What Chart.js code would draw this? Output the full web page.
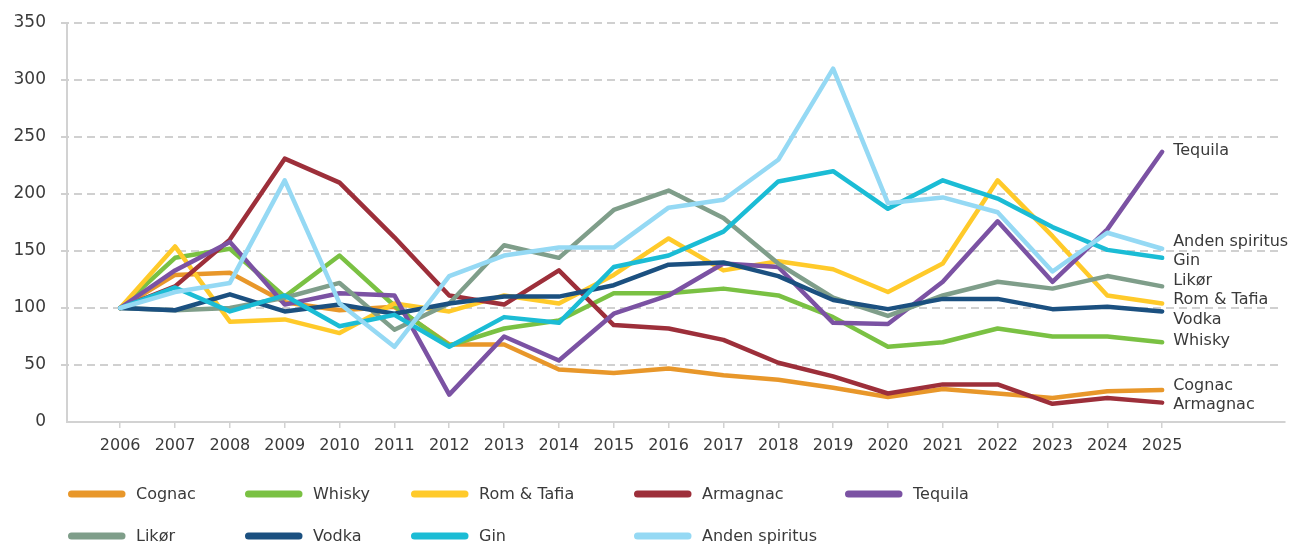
<!DOCTYPE html>
<html>
<head>
<meta charset="utf-8">
<script src="https://cdn.jsdelivr.net/npm/chart.js@4/dist/chart.umd.min.js"></script>
<style>
  html, body { margin: 0; padding: 0; background: #fff; }
  #wrap { position: relative; width: 1301px; height: 548px; }
</style>
</head>
<body>
<div id="wrap"><canvas id="c" width="1301" height="548"></canvas></div>
<script>
const years = [2006,2007,2008,2009,2010,2011,2012,2013,2014,2015,2016,2017,2018,2019,2020,2021,2022,2023,2024,2025];
const yTicks = [0,50,100,150,200,250,300,350];

const cognac   = [100,129,131,105,98,101,68,68,46,43,47,41,37,30,22,29,25,21,27,28];
const whisky   = [100,144,152,110,146,102,67,82,89,113,113,117,111,92,66,70,82,75,75,70];
const rom      = [100,154,88,90,78,104,97,111,104,129,161,133,141,134,114,139,212,163,111,104];
const armagnac = [100,119,160,231,210,162,111,103,133,85,82,72,52,40,25,33,33,16,21,17];
const tequila  = [100,133,158,103,113,111,24,75,54,95,111,139,136,87,86,123,176,123,169,237];
const likor    = [100,98,100,109,122,81,104,155,144,186,203,179,139,109,93,111,123,117,128,119];
const vodka    = [100,98,112,97,103,95,104,110,110,120,138,140,128,107,99,108,108,99,101,97];
const gin      = [100,118,97,111,84,94,66,92,87,136,146,167,211,220,187,212,196,171,151,144];
const anden    = [100,114,122,212,104,66,128,146,153,153,188,195,230,310,192,197,184,132,166,152];

const seriesNames  = ['Cognac','Whisky','Rom & Tafia','Armagnac','Tequila','Likør','Vodka','Gin','Anden spiritus'];
const seriesValues = [cognac, whisky, rom, armagnac, tequila, likor, vodka, gin, anden];
const seriesColors = ['#E8972A','#7AC143','#FFCA2A','#9D2F3A','#7B52A3','#7F9E8A','#1B5080','#1BBCD5','#95D9F4'];

const FONT = '"DejaVu Sans", Lato, sans-serif';
const TEXT = '#3a3a3a';

const datasets = seriesNames.map((name, i) => ({
  label: name,
  data: years.map((y, k) => ({x: y, y: seriesValues[i][k]})),
  borderColor: seriesColors[i],
  backgroundColor: seriesColors[i],
  borderWidth: 4.5,
  pointRadius: 0,
  tension: 0,
  borderCapStyle: 'round',
  borderJoinStyle: 'round',
  order: seriesNames.length - i
}));

const gridPlugin = {
  id: 'dashedGrid',
  beforeDatasetsDraw(chart) {
    const ctx = chart.ctx;
    const ys = chart.scales.y;
    const a = chart.chartArea;
    ctx.save();
    ctx.strokeStyle = '#d0d0d0';
    ctx.lineWidth = 2;
    ctx.setLineDash([8, 5]);
    yTicks.forEach(v => {
      if (v === 0) return;
      const y = Math.round(ys.getPixelForValue(v));
      ctx.beginPath();
      ctx.moveTo(a.left - 6, y);
      ctx.lineTo(a.right - 5, y);
      ctx.stroke();
    });
    ctx.restore();
  }
};

const overlay = {
  id: 'overlay',
  afterDraw(chart) {
    const ctx = chart.ctx;
    const xs = chart.scales.x, ys = chart.scales.y;
    const lastX = xs.getPixelForValue(years[years.length - 1]);
    let items = seriesNames.map((n, i) => ({name: n, t: ys.getPixelForValue(seriesValues[i][seriesValues[i].length - 1]) - 1}));
    items.sort((a, b) => a.t - b.t);
    const gap = 19.5;
    let clusters = items.map(it => ({items: [it], mean: it.t}));
    const place = c => { const n = c.items.length; const start = c.mean - (n - 1) * gap / 2; c.items.forEach((it, k) => it.y = start + k * gap); };
    clusters.forEach(place);
    let changed = true;
    while (changed) {
      changed = false;
      for (let i = 1; i < clusters.length; i++) {
        const a = clusters[i - 1], b = clusters[i];
        const aLast = a.items[a.items.length - 1].y, bFirst = b.items[0].y;
        if (bFirst - aLast < gap) {
          const merged = {items: a.items.concat(b.items)};
          merged.mean = merged.items.reduce((s, it) => s + it.t, 0) / merged.items.length;
          place(merged);
          clusters.splice(i - 1, 2, merged);
          changed = true;
          break;
        }
      }
    }
    ctx.save();
    ctx.font = '16px ' + FONT;
    ctx.fillStyle = TEXT;
    ctx.textAlign = 'left';
    ctx.textBaseline = 'middle';
    items.forEach(it => ctx.fillText(it.name, lastX + 11, it.y));
    const cols = [68, 245, 411, 634, 845];
    const rows = [494, 536];
    seriesNames.forEach((n, i) => {
      const r = Math.floor(i / 5), c = i % 5;
      const x = cols[c], y = rows[r];
      ctx.strokeStyle = seriesColors[i];
      ctx.lineWidth = 7;
      ctx.lineCap = 'round';
      ctx.beginPath();
      ctx.moveTo(x + 3.5, y);
      ctx.lineTo(x + 54, y);
      ctx.stroke();
      ctx.fillStyle = TEXT;
      ctx.fillText(n, x + 68, y + 1);
    });
    ctx.restore();
  }
};

new Chart(document.getElementById('c'), {
  type: 'line',
  data: { datasets },
  options: {
    responsive: false,
    animation: false,
    devicePixelRatio: 1,
    layout: { padding: { top: 23, right: 16, left: 0, bottom: 0 } },
    plugins: { legend: { display: false }, tooltip: { enabled: false } },
    scales: {
      x: {
        type: 'linear',
        min: 2005.03,
        max: 2027.24,
        afterBuildTicks: (s) => { s.ticks = years.map(v => ({value: v})); },
        afterFit: (s) => { s.height = 126; },
        ticks: {
          autoSkip: false,
          maxRotation: 0,
          padding: 8,
          color: TEXT,
          font: { family: FONT, size: 16 },
          callback: (v) => String(v)
        },
        grid: { drawOnChartArea: false, drawTicks: true, tickLength: 6, color: '#d2d2d2', lineWidth: 1.5 },
        border: { display: true, color: '#d2d2d2', width: 2 }
      },
      y: {
        min: 0,
        max: 350,
        afterBuildTicks: (s) => { s.ticks = yTicks.map(v => ({value: v})); },
        afterFit: (s) => { s.width = 67; },
        ticks: {
          padding: 0,
          color: TEXT,
          font: { family: FONT, size: 17 }
        },
        grid: { drawOnChartArea: false, drawTicks: true, tickLength: 21, tickColor: 'rgba(0,0,0,0)' },
        border: { display: true, color: '#d2d2d2', width: 2 }
      }
    }
  },
  plugins: [gridPlugin, overlay]
});
</script>
</body>
</html>
